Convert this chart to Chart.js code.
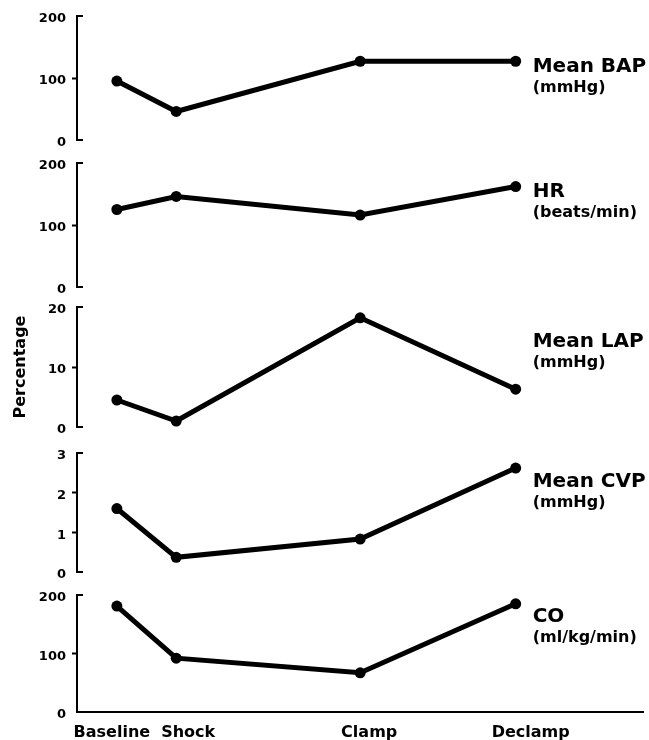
<!DOCTYPE html>
<html>
<head>
<meta charset="utf-8">
<script src="https://cdn.jsdelivr.net/npm/chart.js@4.4.1/dist/chart.umd.min.js"></script>
<style>
  html, body { margin:0; padding:0; background:#fff; }
  #wrap { position:relative; width:649px; height:740px; }
  #wrap canvas { position:absolute; left:0; top:0; }
</style>
</head>
<body>
<div id="wrap">
  <canvas id="c-bap" width="649" height="740"></canvas>
  <canvas id="c-hr"  width="649" height="740"></canvas>
  <canvas id="c-lap" width="649" height="740"></canvas>
  <canvas id="c-cvp" width="649" height="740"></canvas>
  <canvas id="c-co"  width="649" height="740"></canvas>
</div>
<script>
/* ── Dados ─────────────────────────────────────────────── */
const stages    = ['Baseline', 'Shock', 'Clamp', 'Declamp'];
const stageTime = [0, 1, 4.1, 6.72];          // espaçamento relativo no eixo x

const bapVals = [95, 46, 127, 127];
const hrVals  = [125, 146, 116, 162];
const lapVals = [4.5, 1.0, 18.2, 6.3];
const cvpVals = [1.6, 0.37, 0.83, 2.62];
const coVals  = [181, 92, 67, 185];

const ticks200 = [0, 100, 200];
const ticks20  = [0, 10, 20];
const ticks3   = [0, 1, 2, 3];

const FONT = '"DejaVu Sans", "Liberation Sans", sans-serif';
const LABEL_NUDGE = [-5, 12, 9, 15];   // deslocamento (px) dos nomes das fases, como no original

// painéis (top/bottom = pixel do eixo y na página)
const PANELS = [
  { id:'c-bap', vals:bapVals, ticks:ticks200, name:'Mean BAP', unit:'(mmHg)',      at:110,  top:16,  bottom:140 },
  { id:'c-hr',  vals:hrVals,  ticks:ticks200, name:'HR',       unit:'(beats/min)', at:145,  top:163, bottom:287 },
  { id:'c-lap', vals:lapVals, ticks:ticks20,  name:'Mean LAP', unit:'(mmHg)',      at:13.3, top:307, bottom:427, title:'Percentage' },
  { id:'c-cvp', vals:cvpVals, ticks:ticks3,   name:'Mean CVP', unit:'(mmHg)',      at:2.14, top:453, bottom:572 },
  { id:'c-co',  vals:coVals,  ticks:ticks200, name:'CO',       unit:'(ml/kg/min)', at:154,  top:595, bottom:712 },
];

// colchete "[" nas pontas do eixo y
const bracketPlugin = {
  id: 'bracket',
  afterDraw(chart) {
    const y = chart.scales.y, ctx = chart.ctx;
    const x0 = chart.chartArea.left;
    ctx.save();
    ctx.strokeStyle = '#000'; ctx.lineWidth = 2;
    [y.min, y.max].forEach(v => {
      const py = y.getPixelForValue(v);
      ctx.beginPath(); ctx.moveTo(x0 - 1, py); ctx.lineTo(x0 + 6, py); ctx.stroke();
    });
    ctx.restore();
  }
};

// rótulo da variável à direita do último ponto
const panelLabel = {
  id: 'panelLabel',
  afterDatasetsDraw(chart, args, o) {
    const ctx = chart.ctx;
    const x = chart.scales.x.getPixelForValue(stageTime[stageTime.length - 1]) + 17;
    const y = chart.scales.y.getPixelForValue(o.at);
    ctx.save();
    ctx.fillStyle = '#000';
    ctx.textBaseline = 'alphabetic';
    ctx.font = 'bold 20px ' + FONT;
    ctx.fillText(o.name, x, y);
    ctx.font = 'bold 16px ' + FONT;
    ctx.fillText(o.unit, x, y + 20);
    ctx.restore();
  }
};

// nomes das fases sob o eixo x (só no último painel)
const stageLabels = {
  id: 'stageLabels',
  afterDraw(chart, args, o) {
    if (!o.show) return;
    const ctx = chart.ctx, xs = chart.scales.x;
    ctx.save();
    ctx.fillStyle = '#000';
    ctx.font = 'bold 16px ' + FONT;
    ctx.textAlign = 'center';
    ctx.textBaseline = 'alphabetic';
    stages.forEach((s, i) => {
      ctx.fillText(s, xs.getPixelForValue(stageTime[i]) + LABEL_NUDGE[i], xs.top + 25);
    });
    ctx.restore();
  }
};

PANELS.forEach((p, i) => {
  const last = i === PANELS.length - 1;
  const yMin = p.ticks[0], yMax = p.ticks[p.ticks.length - 1];
  new Chart(document.getElementById(p.id), {
    type: 'line',
    data: {
      datasets: [{
        data: stageTime.map((t, k) => ({ x: t, y: p.vals[k] })),
        borderColor: '#000', backgroundColor: '#000',
        borderWidth: 5, pointRadius: 5.5, pointHoverRadius: 5.5, pointBorderWidth: 0,
        tension: 0, clip: false
      }]
    },
    options: {
      responsive: false, animation: false, events: [],
      layout: { padding: { left: 0, right: 4, top: p.top, bottom: last ? 0 : 740 - p.bottom } },
      plugins: {
        legend: { display: false }, tooltip: { enabled: false },
        panelLabel: { name: p.name, unit: p.unit, at: p.at },
        stageLabels: { show: last }
      },
      scales: {
        x: {
          type: 'linear', min: -0.672, max: 8.874, display: last,
          afterBuildTicks: s => { s.ticks = stageTime.map(v => ({ value: v })); },
          afterFit: s => { if (last) s.height = 28; },
          ticks: { display: false },
          grid: { display: false, drawTicks: false },
          border: { display: true, color: '#000', width: 2 }
        },
        y: {
          min: yMin, max: yMax,
          afterBuildTicks: s => { s.ticks = p.ticks.map(v => ({ value: v })); },
          afterFit: s => { s.width = 77; },
          ticks: {
            font: { family: FONT, size: 13, weight: 'bold' }, color: '#000',
            padding: 6, labelOffset: 3
          },
          grid: {
            drawOnChartArea: false, tickLength: 5, tickWidth: 2,
            tickColor: c => (c.tick && (c.tick.value === yMin || c.tick.value === yMax)) ? 'rgba(0,0,0,0)' : '#000'
          },
          border: { display: true, color: '#000', width: 2 },
          title: {
            display: !!p.title, text: p.title || '', color: '#000',
            font: { family: FONT, size: 16, weight: 'bold' },
            padding: { top: 11, bottom: 0 }
          }
        }
      }
    },
    plugins: [bracketPlugin, panelLabel, stageLabels]
  });
});
</script>
</body>
</html>
